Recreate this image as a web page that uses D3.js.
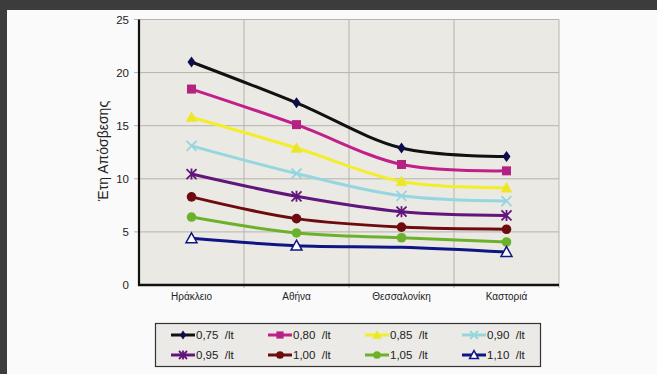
<!DOCTYPE html>
<html>
<head>
<meta charset="utf-8">
<script src="https://cdn.jsdelivr.net/npm/d3@7"></script>
<style>
  html, body { margin: 0; padding: 0; background: #fafafa; }
  svg { display: block; }
</style>
</head>
<body>
<script>
// Payback years per city, for each fuel price
const cities = ["Ηράκλειο", "Αθήνα", "Θεσσαλονίκη", "Καστοριά"];
const seriesNames = ["0,75 /lt", "0,80 /lt", "0,85 /lt", "0,90 /lt", "0,95 /lt", "1,00 /lt", "1,05 /lt", "1,10 /lt"];
const v075 = [21.0, 17.15, 12.9, 12.1];
const v080 = [18.45, 15.1, 11.35, 10.75];
const v085 = [15.8, 12.9, 9.75, 9.15];
const v090 = [13.1, 10.5, 8.4, 7.9];
const v095 = [10.45, 8.35, 6.9, 6.55];
const v100 = [8.3, 6.25, 5.45, 5.25];
const v105 = [6.4, 4.9, 4.45, 4.05];
const v110 = [4.4, 3.7, 3.55, 3.1];
const yTicks = [0, 5, 10, 15, 20, 25];
const yTitle = "Έτη Απόσβεσης";

const values = [v075, v080, v085, v090, v095, v100, v105, v110];

const styles = [
  { line: "#111111", fill: "#0d0d4d", stroke: "#0d0d4d", sym: "diamond" },
  { line: "#c11f8a", fill: "#b4237f", stroke: "#b4237f", sym: "square" },
  { line: "#f2ee2a", fill: "#ece62a", stroke: "#ece62a", sym: "triangle" },
  { line: "#95d6df", fill: "none", stroke: "#95d6df", sym: "x" },
  { line: "#62157a", fill: "none", stroke: "#62157a", sym: "star" },
  { line: "#6e0b0e", fill: "#6e0b0e", stroke: "#6e0b0e", sym: "circle" },
  { line: "#6cb12b", fill: "#6cb12b", stroke: "#6cb12b", sym: "circle" },
  { line: "#101585", fill: "#ffffff", stroke: "#101585", sym: "triangle" }
];

const W = 657, H = 374;
const plot = { left: 139, right: 559, top: 19.5, bottom: 285 };
const font = "'Liberation Sans Narrow', 'Liberation Sans', Arial, sans-serif";

const svg = d3.select("body").append("svg").attr("width", W).attr("height", H);

// dark page frame
svg.append("rect").attr("x", 0).attr("y", 0).attr("width", W).attr("height", 10).attr("fill", "#3c3c3c");
svg.append("rect").attr("x", 0).attr("y", 0).attr("width", 7).attr("height", H).attr("fill", "#3c3c3c");

const x = d3.scaleBand().domain(cities).range([plot.left, plot.right]);
const y = d3.scaleLinear().domain([0, 25]).range([plot.bottom, plot.top]);

// plot background
svg.append("rect")
  .attr("x", plot.left).attr("y", plot.top)
  .attr("width", plot.right - plot.left).attr("height", plot.bottom - plot.top)
  .attr("fill", "#ebe9e4");

// horizontal gridlines
svg.append("g").selectAll("line").data(yTicks.filter(t => t > 0)).join("line")
  .attr("x1", plot.left - 5).attr("x2", plot.right)
  .attr("y1", d => y(d)).attr("y2", d => y(d))
  .attr("stroke", "#b5b3ae").attr("stroke-width", 1);

// vertical gridlines at category boundaries
const bounds = cities.slice(1).map(c => x(c)).concat([plot.right]);
svg.append("g").selectAll("line").data(bounds).join("line")
  .attr("x1", d => d).attr("x2", d => d)
  .attr("y1", plot.top).attr("y2", plot.bottom + 3)
  .attr("stroke", "#b5b3ae").attr("stroke-width", 1);

// y axis
const yAxis = svg.append("g").attr("transform", `translate(${plot.left},0)`)
  .call(d3.axisLeft(y).tickValues(yTicks).tickSize(0).tickPadding(10));
yAxis.select(".domain").remove();
yAxis.selectAll("text").attr("font-family", font).attr("font-size", 11.5).attr("fill", "#222");
svg.append("line").attr("x1", plot.left).attr("x2", plot.left)
  .attr("y1", plot.top).attr("y2", plot.bottom + 1)
  .attr("stroke", "#111").attr("stroke-width", 2.2);

// x axis
const xAxis = svg.append("g").attr("transform", `translate(0,${plot.bottom})`)
  .call(d3.axisBottom(x).tickSize(0).tickPadding(8));
xAxis.select(".domain").remove();
xAxis.selectAll("text").attr("font-family", font).attr("font-size", 10).attr("fill", "#222");
svg.append("line").attr("x1", plot.left - 1).attr("x2", plot.right)
  .attr("y1", plot.bottom).attr("y2", plot.bottom)
  .attr("stroke", "#111").attr("stroke-width", 2.6);

// y axis title
svg.append("text")
  .attr("transform", `translate(108,151) rotate(-90)`)
  .attr("text-anchor", "middle")
  .attr("font-family", "'Liberation Sans', Arial, sans-serif")
  .attr("font-size", 14).attr("fill", "#222")
  .text(yTitle);

function drawMarker(g, st, cx, cy, scale) {
  const s = scale || 1;
  if (st.sym === "diamond") {
    g.append("path").attr("d", `M${cx},${cy - 5.5 * s}L${cx + 4 * s},${cy}L${cx},${cy + 5.5 * s}L${cx - 4 * s},${cy}Z`)
      .attr("fill", st.fill);
  } else if (st.sym === "square") {
    g.append("rect").attr("x", cx - 4.5 * s).attr("y", cy - 4.5 * s).attr("width", 9 * s).attr("height", 9 * s)
      .attr("fill", st.fill);
  } else if (st.sym === "triangle") {
    const r = 5.5 * s;
    g.append("path").attr("d", `M${cx},${cy - r}L${cx + r},${cy + r * 0.8}L${cx - r},${cy + r * 0.8}Z`)
      .attr("fill", st.fill).attr("stroke", st.stroke).attr("stroke-width", st.fill === "#ffffff" ? 1.5 : 0.5);
  } else if (st.sym === "x") {
    const r = 5 * s;
    g.append("path").attr("d", `M${cx - r},${cy - r}L${cx + r},${cy + r}M${cx - r},${cy + r}L${cx + r},${cy - r}`)
      .attr("stroke", st.stroke).attr("stroke-width", 1.8).attr("fill", "none");
  } else if (st.sym === "star") {
    const r = 5 * s;
    g.append("path").attr("d", `M${cx - r},${cy - r}L${cx + r},${cy + r}M${cx - r},${cy + r}L${cx + r},${cy - r}M${cx},${cy - r * 1.1}L${cx},${cy + r * 1.1}`)
      .attr("stroke", st.stroke).attr("stroke-width", 1.8).attr("fill", "none");
  } else if (st.sym === "circle") {
    g.append("circle").attr("cx", cx).attr("cy", cy).attr("r", 4.8 * s).attr("fill", st.fill);
  }
}

const line = d3.line()
  .x((d, i) => x(cities[i]) + x.bandwidth() / 2)
  .y(d => y(d))
  .curve(d3.curveCatmullRom.alpha(0.5));

const seriesG = svg.append("g");
values.forEach((vals, k) => {
  const st = styles[k];
  const g = seriesG.append("g");
  g.append("path").datum(vals).attr("d", line)
    .attr("fill", "none").attr("stroke", st.line).attr("stroke-width", 3);
  vals.forEach((v, i) => {
    // the 1,10 /lt series shows no marker at Θεσσαλονίκη
    if (k === 7 && i === 2) return;
    drawMarker(g, st, x(cities[i]) + x.bandwidth() / 2, y(v));
  });
});

// legend
const lg = svg.append("g");
lg.append("rect").attr("x", 155.5).attr("y", 323.5).attr("width", 385).attr("height", 43)
  .attr("fill", "#ebeae6").attr("stroke", "#333").attr("stroke-width", 1.2);
seriesNames.forEach((name, k) => {
  const st = styles[k];
  const col = k % 4, row = Math.floor(k / 4);
  const x0 = 171 + col * 97, yy = 335 + row * 20;
  const g = lg.append("g");
  g.append("line").attr("x1", x0).attr("x2", x0 + 24).attr("y1", yy).attr("y2", yy)
    .attr("stroke", st.line).attr("stroke-width", 3);
  drawMarker(g, st, x0 + 12, yy, 0.8);
  g.append("text").attr("x", x0 + 25).attr("y", yy + 4)
    .attr("font-family", "'Liberation Sans', Arial, sans-serif").attr("font-size", 11.5).attr("fill", "#222")
    .attr("xml:space", "preserve").style("white-space", "pre")
    .text(name.replace(" ", "  "));
});
</script>
</body>
</html>
